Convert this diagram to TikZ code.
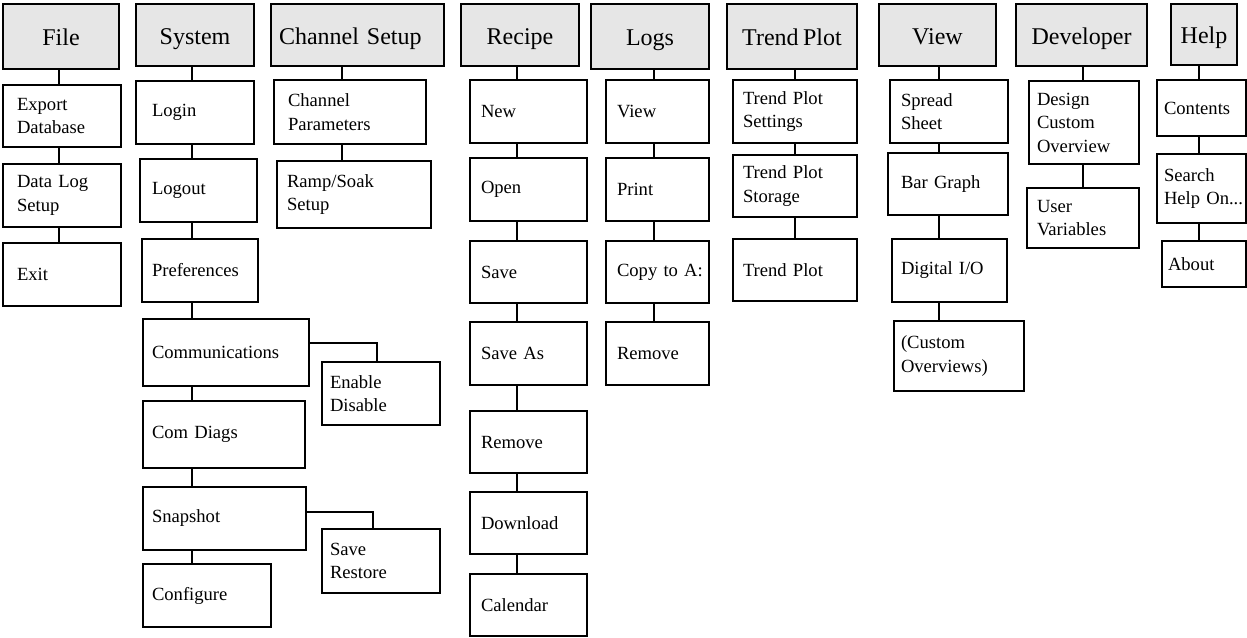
\documentclass[tikz,border=0pt]{standalone}
\usepackage{fontspec}
\setmainfont[WordSpace=0.75]{Liberation Serif}
\definecolor{headgray}{RGB}{230,230,230}
\newcommand{\menuhead}[7][]{%
  \pgfmathsetmacro\menuw{#5-#3}%
  \pgfmathsetmacro\menuh{#6-#4}%
  \node[head, minimum width=\menuw pt, minimum height=\menuh pt, #1] (#2) at (#3,#4) {#7};}
\newcommand{\menuitem}[7][10]{%
  \pgfmathsetmacro\menuw{#5-#3}%
  \pgfmathsetmacro\menuh{#6-#4}%
  \pgfmathsetmacro\menutw{#5-#3-2*#1}%
  \node[item, inner xsep=#1pt, text width=\menutw pt, minimum width=\menuw pt, minimum height=\menuh pt] (#2) at (#3,#4) {#7};}
\begin{document}
\begin{tikzpicture}[x=1pt, y=-1pt, line width=1.9pt,
  head/.style={draw, fill=headgray, anchor=north west, outer sep=0pt, inner sep=0pt, text height=20pt, text depth=2pt, font=\fontsize{24}{28}\selectfont},
  item/.style={draw, fill=white, anchor=north west, outer sep=0pt, inner ysep=0pt, align=left, font=\fontsize{18.6}{23.5}\selectfont}]
  \useasboundingbox (0,0) rectangle (1247,637);
  \menuhead{file}{3}{4}{119}{69}{File}
  \menuhead{sys}{136}{4}{254}{66}{System}
  \menuhead[text width=157pt, inner xsep=8pt, align=left]{chan}{271}{4}{444}{66}{Channel Setup}
  \menuhead{rec}{461}{4}{579}{66}{Recipe}
  \menuhead{logs}{591}{4}{709}{69}{Logs}
  \menuhead{trend}{727}{4}{857}{69}{Trend Plot}
  \menuhead{view}{879}{4}{996}{66}{View}
  \menuhead{dev}{1016}{4}{1147}{66}{Developer}
  \menuhead{help}{1171}{4}{1237}{65}{Help}
  \menuitem[14]{exp}{3}{85}{121}{147}{Export\\Database}
  \menuitem[14]{dls}{3}{164}{121}{227}{Data~Log\\Setup}
  \menuitem[14]{exi}{3}{243}{121}{306}{Exit}
  \menuitem[16]{login}{136}{81}{254}{144}{Login}
  \menuitem[12]{logout}{140}{159}{257}{222}{Logout}
  \menuitem[10]{pref}{142}{239}{258}{302}{Preferences}
  \menuitem[9]{comm}{143}{319}{309}{386}{Communications}
  \menuitem[9]{diag}{143}{401}{305}{468}{Com~Diags}
  \menuitem[9]{snap}{143}{487}{306}{550}{Snapshot}
  \menuitem[9]{conf}{143}{564}{271}{627}{Configure}
  \menuitem[8]{ena}{322}{362}{440}{425}{Enable\\Disable}
  \menuitem[8]{sav}{322}{529}{440}{593}{Save\\Restore}
  \menuitem[14]{par}{274}{80}{426}{144}{Channel\\Parameters}
  \menuitem[10]{ramp}{277}{161}{431}{228}{Ramp/Soak\\Setup}
  \menuitem[11]{new}{470}{80}{587}{143}{New}
  \menuitem[11]{open}{470}{158}{587}{221}{Open}
  \menuitem[11]{save}{470}{241}{587}{303}{Save}
  \menuitem[11]{saveas}{470}{322}{587}{385}{Save~As}
  \menuitem[11]{rrem}{470}{411}{587}{473}{Remove}
  \menuitem[11]{down}{470}{492}{587}{554}{Download}
  \menuitem[11]{cal}{470}{574}{587}{636}{Calendar}
  \menuitem[11]{lview}{606}{80}{709}{143}{View}
  \menuitem[11]{print}{606}{158}{709}{221}{Print}
  \menuitem[11]{copy}{606}{241}{709}{303}{Copy~to~A:}
  \menuitem[11]{lrem}{606}{322}{709}{385}{Remove}
  \menuitem[10]{tset}{733}{80}{857}{143}{Trend~Plot\\Settings}
  \menuitem[10]{tsto}{733}{155}{857}{217}{Trend~Plot\\Storage}
  \menuitem[10]{tplot}{733}{239}{857}{301}{Trend~Plot}
  \menuitem[11]{sheet}{890}{80}{1008}{143}{Spread\\Sheet}
  \menuitem[13]{bar}{888}{153}{1008}{215}{Bar~Graph}
  \menuitem[9]{dio}{892}{239}{1007}{302}{Digital~I/O}
  \menuitem[7]{cust}{894}{321}{1024}{391}{(Custom\\Overviews)}
  \menuitem[8]{design}{1029}{81}{1139}{164}{Design\\Custom\\Overview}
  \menuitem[10]{uvar}{1027}{188}{1139}{248}{User\\Variables}
  \menuitem[7]{cont}{1157}{80}{1246}{136}{Contents}
  \menuitem[7]{search}{1157}{154}{1246}{223}{Search\\Help~On...}
  \menuitem[6]{about}{1162}{241}{1246}{287}{About}
  \coordinate (filex) at (59,0);
  \coordinate (sysx) at (192,0);
  \coordinate (chanx) at (342,0);
  \coordinate (recx) at (517,0);
  \coordinate (logsx) at (654,0);
  \coordinate (trendx) at (795,0);
  \coordinate (viewx) at (939,0);
  \coordinate (devx) at (1083,0);
  \coordinate (helpx) at (1199,0);
  \foreach \a/\b/\c in {file/exp/filex, exp/dls/filex, dls/exi/filex,
      sys/login/sysx, login/logout/sysx, logout/pref/sysx, pref/comm/sysx,
      comm/diag/sysx, diag/snap/sysx, snap/conf/sysx,
      chan/par/chanx, par/ramp/chanx,
      rec/new/recx, new/open/recx, open/save/recx, save/saveas/recx,
      saveas/rrem/recx, rrem/down/recx, down/cal/recx,
      logs/lview/logsx, lview/print/logsx, print/copy/logsx, copy/lrem/logsx,
      trend/tset/trendx, tset/tsto/trendx, tsto/tplot/trendx,
      view/sheet/viewx, sheet/bar/viewx, bar/dio/viewx, dio/cust/viewx,
      dev/design/devx, design/uvar/devx,
      help/cont/helpx, cont/search/helpx, search/about/helpx}
    \draw (\a.south -| \c) -- (\b.north -| \c);
  \draw ([yshift=9.5pt]comm.east) -| ([xshift=-4pt]ena.north);
  \draw ([yshift=6.5pt]snap.east) -| ([xshift=-8pt]sav.north);
\end{tikzpicture}
\end{document}
